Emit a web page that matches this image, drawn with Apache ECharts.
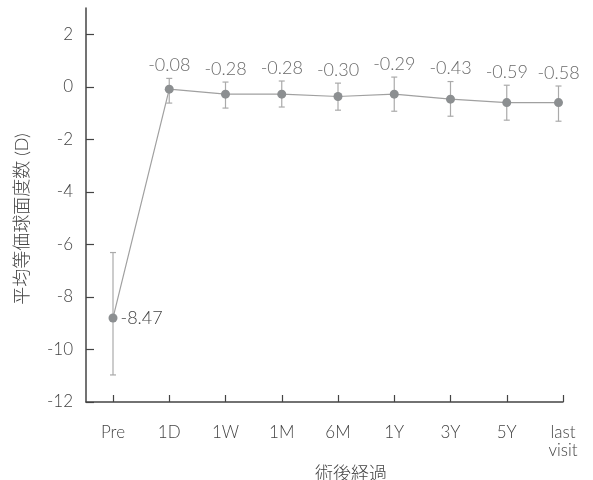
<!DOCTYPE html>
<html>
<head>
<meta charset="utf-8">
<script src="https://cdn.jsdelivr.net/npm/echarts@6/dist/echarts.min.js"></script>
<style>html,body{margin:0;padding:0;background:#fff}#c{width:593px;height:480px}</style>
</head>
<body>
<div id="c"></div>
<script>
// ---- data ----
const categories = ['Pre', '1D', '1W', '1M', '6M', '1Y', '3Y', '5Y', 'last\nvisit'];
const xPositions = [0, 1, 2, 3, 4, 5, 6, 7, 7.92];
const means = [-8.80, -0.09, -0.28, -0.28, -0.37, -0.28, -0.47, -0.60, -0.60];
const upper = [-6.31, 0.32, 0.18, 0.22, 0.14, 0.37, 0.20, 0.06, 0.03];
const lower = [-10.97, -0.62, -0.81, -0.77, -0.89, -0.93, -1.12, -1.27, -1.31];
const labelTexts = ['-8.47', '-0.08', '-0.28', '-0.28', '-0.30', '-0.29', '-0.43', '-0.59', '-0.58'];
const yTicks = [-12, -10, -8, -6, -4, -2, 0, 2];
const xTicks = [0, 1, 2, 3, 4, 5, 6, 7, 8];

const FONT = 'Lato, "Noto Sans CJK JP", sans-serif';
const TEXT = '#444';
const W = 300;

const chart = echarts.init(document.getElementById('c'), null, {renderer: 'canvas'});

const lineData = means.map((m, i) => {
  const item = {value: [xPositions[i], m]};
  if (i === 0) {
    item.label = {show: true, position: 'right', distance: 3, formatter: labelTexts[0],
      fontSize: 18, color: TEXT, fontFamily: FONT, fontWeight: W};
  }
  return item;
});
const errData = means.map((m, i) => [xPositions[i], lower[i], upper[i]]);
const labelData = upper.map((u, i) => ({value: [xPositions[i], u], text: labelTexts[i]})).slice(1);

chart.setOption({
  animation: false,
  grid: {left: 86, right: 30, top: 8, bottom: 78, outerBoundsMode: 'none', containLabel: false},
  xAxis: {
    type: 'value', min: -0.48, max: 8,
    name: '術後経過', nameLocation: 'middle', nameGap: 53,
    nameTextStyle: {fontSize: 18, color: TEXT, fontFamily: FONT, fontWeight: W, padding: [0, 0, 0, 53]},
    splitLine: {show: false},
    axisLine: {show: true, onZero: false, lineStyle: {color: '#444', width: 1.5}},
    axisTick: {show: true, inside: true, length: 7, customValues: xTicks, lineStyle: {color: '#444', width: 1.2}},
    axisLabel: {
      customValues: xTicks, margin: 22, fontSize: 17, color: TEXT, fontFamily: FONT, fontWeight: W,
      lineHeight: 18, verticalAlign: 'top',
      formatter: v => categories[Math.round(v)] || ''
    }
  },
  yAxis: {
    type: 'value', min: -12, max: 3,
    name: '平均等価球面度数 (D)', nameLocation: 'middle', nameGap: 55,
    nameTextStyle: {fontSize: 18, color: TEXT, fontFamily: FONT, fontWeight: W, padding: [0, 28, 0, 0]},
    splitLine: {show: false},
    axisLine: {show: true, onZero: false, lineStyle: {color: '#444', width: 1.5}},
    axisTick: {show: true, inside: true, length: 8, customValues: yTicks, lineStyle: {color: '#444', width: 1.2}},
    axisLabel: {customValues: yTicks, margin: 13, fontSize: 17, color: TEXT, fontFamily: FONT, fontWeight: W}
  },
  series: [
    {
      type: 'custom',
      data: errData,
      z: 1,
      renderItem: (params, api) => {
        const x = api.value(0);
        const lo = api.coord([x, api.value(1)]);
        const hi = api.coord([x, api.value(2)]);
        const w = 3;
        const style = {stroke: '#aaaaaa', lineWidth: 1.2};
        return {type: 'group', children: [
          {type: 'line', shape: {x1: lo[0], y1: lo[1], x2: hi[0], y2: hi[1]}, style},
          {type: 'line', shape: {x1: lo[0] - w, y1: lo[1], x2: lo[0] + w, y2: lo[1]}, style},
          {type: 'line', shape: {x1: hi[0] - w, y1: hi[1], x2: hi[0] + w, y2: hi[1]}, style}
        ]};
      }
    },
    {
      type: 'line',
      data: lineData,
      z: 2,
      symbol: 'circle', symbolSize: 9,
      lineStyle: {color: '#a0a0a0', width: 1.2},
      itemStyle: {color: '#8c8f91'}
    },
    {
      type: 'scatter',
      data: labelData,
      symbolSize: 0,
      z: 3,
      label: {show: true, position: 'top', distance: 4, fontSize: 18, color: TEXT, fontFamily: FONT, fontWeight: W,
        formatter: p => p.data.text}
    }
  ]
});
</script>
</body>
</html>
